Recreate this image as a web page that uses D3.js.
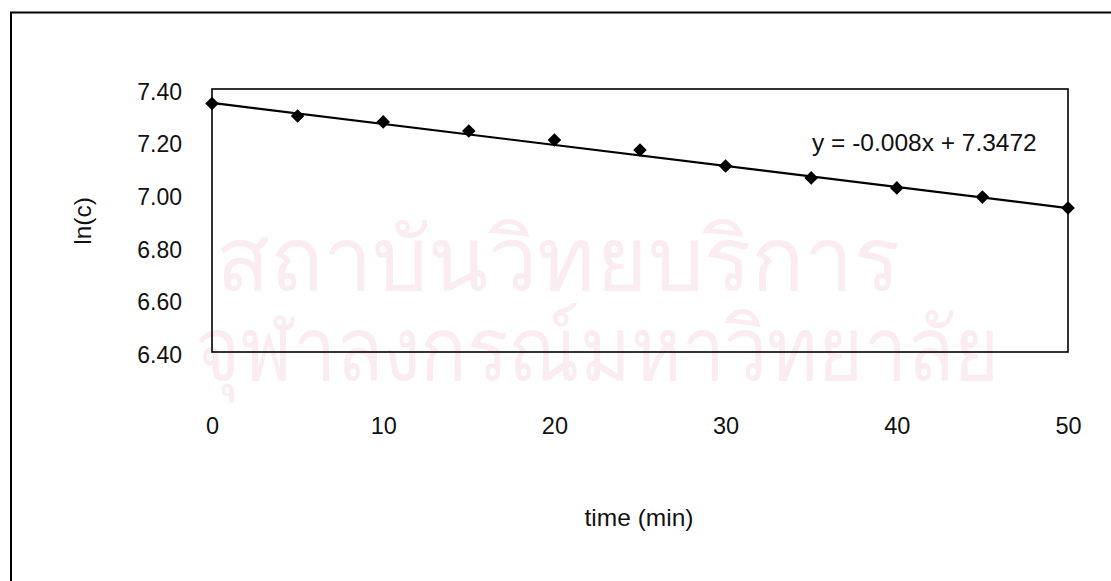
<!DOCTYPE html>
<html>
<head>
<meta charset="utf-8">
<script src="https://cdn.jsdelivr.net/npm/d3@7"></script>
<style>
  html, body { margin: 0; padding: 0; background: #fff; }
  svg { display: block; }
  text { font-family: "Liberation Sans", Arial, sans-serif; fill: #111; }
</style>
</head>
<body>
<svg id="chart" width="1111" height="581"></svg>
<script>
// Sampling times (min) and measured ln(c)
const times = [0, 5, 10, 15, 20, 25, 30, 35, 40, 45, 50];
const lnC   = [7.345, 7.297, 7.275, 7.240, 7.206, 7.168, 7.107, 7.062, 7.024, 6.989, 6.948];

// Linear fit reported on the chart
const fitSlope = -0.008;
const fitIntercept = 7.3472;
const fitLabel = "y = -0.008x + 7.3472";

const yTicks = [6.40, 6.60, 6.80, 7.00, 7.20, 7.40];
const xTicks = [0, 10, 20, 30, 40, 50];

const watermarkLines = ["สถาบันวิทยบริการ", "จุฬาลงกรณ์มหาวิทยาลัย"];

const svg = d3.select("#chart");
const plot = { left: 212, top: 89, right: 1068, bottom: 352 };

const x = d3.scaleLinear().domain([0, 50]).range([plot.left, plot.right]);
const y = d3.scaleLinear().domain([6.40, 7.40]).range([plot.bottom, plot.top]);

// Faint library watermark behind the chart
const wm = svg.append("g").attr("class", "watermark")
  .style("font-family", "'Noto Sans Thai', 'Noto Sans', 'DejaVu Sans', sans-serif");
wm.append("text").attr("x", 558).attr("y", 290).attr("text-anchor", "middle")
  .attr("textLength", 685).attr("lengthAdjust", "spacingAndGlyphs")
  .style("font-size", "88px").style("fill", "#fbecf1").text(watermarkLines[0]);
wm.append("text").attr("x", 597).attr("y", 380).attr("text-anchor", "middle")
  .attr("textLength", 805).attr("lengthAdjust", "spacingAndGlyphs")
  .style("font-size", "88px").style("fill", "#fbecf1").text(watermarkLines[1]);

// Outer chart border (runs off the right and bottom edges)
svg.append("path")
  .attr("d", `M11,600 L11,12.5 L1120,12.5`)
  .attr("fill", "none").attr("stroke", "#000").attr("stroke-width", 2);

// Plot frame
svg.append("rect")
  .attr("x", plot.left).attr("y", plot.top)
  .attr("width", plot.right - plot.left).attr("height", plot.bottom - plot.top)
  .attr("fill", "none").attr("stroke", "#000").attr("stroke-width", 1.6);

// Y axis labels
const yAxis = d3.axisLeft(y).tickValues(yTicks).tickFormat(d3.format(".2f")).tickSize(0).tickPadding(30);
const gy = svg.append("g").attr("transform", `translate(${plot.left},0)`).call(yAxis);
gy.select(".domain").remove();
gy.selectAll("text").style("font-size", "23px").attr("dy", "0.45em")
  .style("font-family", "'Liberation Sans', Arial, sans-serif").attr("fill", "#111");

// X axis labels, set below the frame
const xAxis = d3.axisBottom(x).tickValues(xTicks).tickFormat(d3.format("d")).tickSize(0).tickPadding(0);
const gx = svg.append("g").attr("transform", `translate(0,${plot.bottom + 77})`).call(xAxis);
gx.select(".domain").remove();
gx.selectAll("text").style("font-size", "23.5px").attr("dy", "0.2em")
  .style("font-family", "'Liberation Sans', Arial, sans-serif").attr("fill", "#111");

// Fitted line
const fit = d3.line().x(d => x(d)).y(d => y(fitSlope * d + fitIntercept));
svg.append("path").datum([0, 50]).attr("d", fit)
  .attr("fill", "none").attr("stroke", "#000").attr("stroke-width", 2.2);

// Data markers (square diamonds)
const marker = d3.symbol().type(d3.symbolSquare).size(92);
svg.append("g").selectAll("path").data(times.map((t, i) => [t, lnC[i]])).join("path")
  .attr("transform", d => `translate(${x(d[0])},${y(d[1])}) rotate(45)`)
  .attr("d", marker).attr("fill", "#000");

// Fit equation
svg.append("text").attr("x", 812).attr("y", 151).style("font-size", "24.5px").text(fitLabel);

// Axis titles
svg.append("text").attr("x", 639).attr("y", 526).attr("text-anchor", "middle")
  .style("font-size", "24.5px").text("time (min)");
svg.append("text").attr("transform", "translate(91,221) rotate(-90)").attr("text-anchor", "middle")
  .style("font-size", "24.5px").text("ln(c)");
</script>
</body>
</html>
